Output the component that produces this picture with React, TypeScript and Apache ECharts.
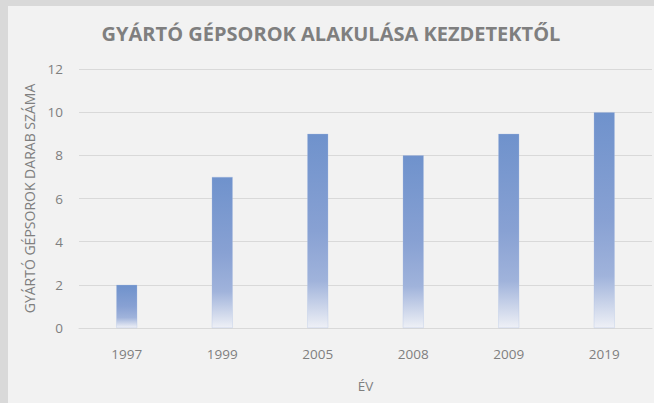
import React, { useEffect, useRef } from "react";
import * as echarts from "echarts";

const titleText = "GYÁRTÓ GÉPSOROK ALAKULÁSA KEZDETEKTŐL";
const yAxisName = "GYÁRTÓ GÉPSOROK DARAB SZÁMA";
const xAxisName = "ÉV";
const years = ["1997", "1999", "2005", "2008", "2009", "2019"];
const machineCounts = [2, 7, 9, 8, 9, 10];

const FONT = "'Open Sans', 'Noto Sans', sans-serif";

export default function App() {
  const ref = useRef<HTMLDivElement>(null);
  useEffect(() => {
    if (!ref.current) return;
    const chart = echarts.init(ref.current, undefined, { renderer: "svg" });
    chart.setOption({
      animation: false,
      backgroundColor: "#f2f2f2",
      title: {
        text: titleText,
        left: "center",
        top: 12,
        textStyle: {
          color: "#7f7f7f",
          fontSize: 20,
          fontWeight: "bold",
          fontFamily: FONT,
        },
      },
      grid: { left: 71, right: 2, top: 63, bottom: 75, containLabel: false },
      xAxis: {
        type: "category",
        data: years,
        name: xAxisName,
        nameLocation: "middle",
        nameGap: 51,
        nameTextStyle: { color: "#7f7f7f", fontSize: 13.5, fontFamily: FONT },
        axisLine: { lineStyle: { color: "#d9d9d9", width: 1 } },
        axisTick: { show: false },
        axisLabel: { color: "#7f7f7f", fontSize: 13.5, margin: 19, fontFamily: FONT },
      },
      yAxis: {
        type: "value",
        min: 0,
        max: 12,
        interval: 2,
        name: yAxisName,
        nameLocation: "middle",
        nameGap: 43,
        nameTextStyle: { color: "#7f7f7f", fontSize: 14, fontFamily: FONT },
        axisLine: { show: false },
        axisTick: { show: false },
        axisLabel: { color: "#7f7f7f", fontSize: 13.5, margin: 16, fontFamily: FONT },
        splitLine: { lineStyle: { color: "#d9d9d9", width: 1 } },
      },
      series: [
        {
          type: "bar",
          data: machineCounts,
          barWidth: 21,
          itemStyle: {
            borderColor: "rgba(170,190,228,0.6)",
            borderWidth: 0.5,
            color: new echarts.graphic.LinearGradient(0, 0, 0, 1, [
              { offset: 0, color: "#6f92cc" },
              { offset: 0.5, color: "#88a1d3" },
              { offset: 0.76, color: "#a0b3db" },
              { offset: 1, color: "#eef0f6" },
            ]),
          },
        },
      ],
    });
    return () => chart.dispose();
  }, []);
  return (
    <div
      style={{
        position: "fixed",
        left: 0,
        top: 0,
        width: 654,
        height: 403,
        background: "#d9d9d9",
      }}
    >
      <div
        ref={ref}
        style={{ position: "absolute", left: 8, top: 6, width: 646, height: 397 }}
      />
    </div>
  );
}
